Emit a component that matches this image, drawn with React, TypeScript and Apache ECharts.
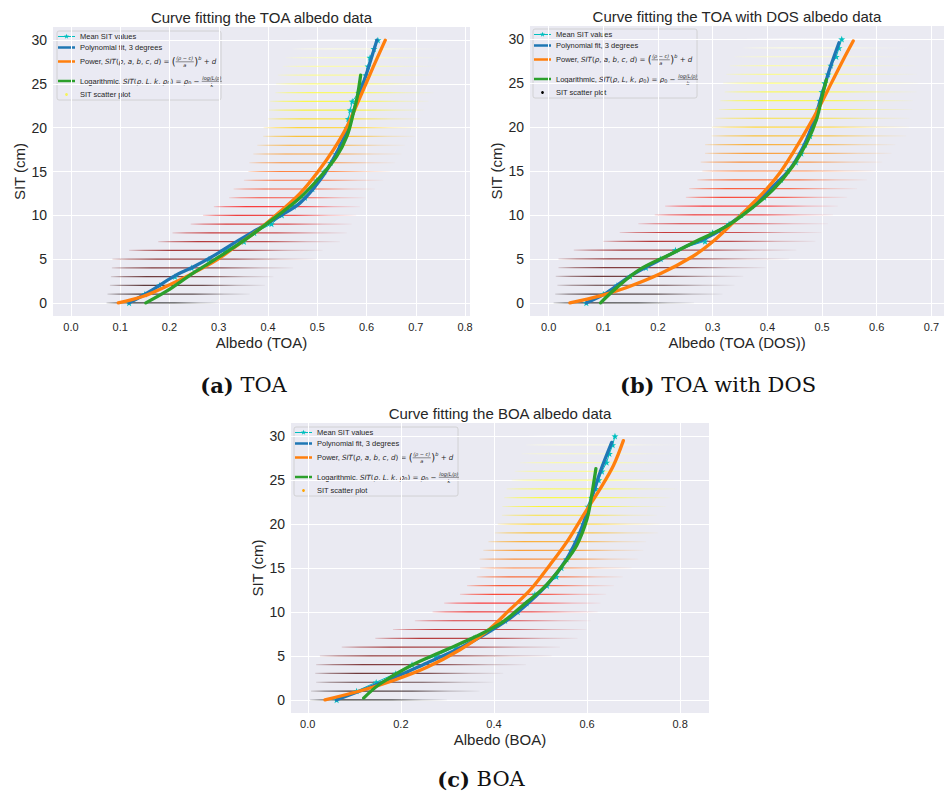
import React, { useEffect, useRef } from 'react';
import * as echarts from 'echarts';

// ---------- data ----------
const sitLevels = [0, 1, 2, 3, 4, 5, 6, 7, 8, 9, 10, 11, 12, 13, 14, 15, 16, 17, 18, 19, 20, 21, 22, 23, 24, 25, 26, 27, 28, 29, 30];

// TOA
const toaBandMin = [0.072, 0.074, 0.079, 0.081, 0.083, 0.084, 0.118, 0.177, 0.206, 0.243, 0.268, 0.290, 0.321, 0.330, 0.351, 0.360, 0.362, 0.370, 0.378, 0.390, 0.391, 0.400, 0.402, 0.404, 0.415, 0.416, 0.420, 0.430, 0.436, 0.450, 0.458];
const toaBandMax = [0.303, 0.363, 0.394, 0.411, 0.451, 0.497, 0.511, 0.546, 0.560, 0.570, 0.579, 0.587, 0.598, 0.617, 0.634, 0.648, 0.658, 0.671, 0.678, 0.698, 0.707, 0.709, 0.717, 0.726, 0.736, 0.729, 0.736, 0.743, 0.756, 0.766, 0.770];
const toaMean = [0.118, 0.150, 0.180, 0.211, 0.245, 0.280, 0.312, 0.351, 0.372, 0.407, 0.428, 0.452, 0.475, 0.490, 0.499, 0.514, 0.527, 0.538, 0.546, 0.556, 0.560, 0.563, 0.567, 0.571, 0.584, 0.591, 0.598, 0.603, 0.607, 0.615, 0.623];
const toaPoly = [[0.118, 0], [0.160, 1.3], [0.208, 3.0], [0.248, 4.1], [0.290, 5.4], [0.330, 6.8], [0.377, 8.35], [0.428, 10.06], [0.465, 11.4], [0.506, 14.05], [0.539, 17.1], [0.563, 20.1], [0.580, 23.0], [0.600, 26.2], [0.621, 30.0]];
const toaPower = [[0.096, 0], [0.147, 0.76], [0.194, 1.9], [0.248, 3.4], [0.296, 4.9], [0.343, 6.8], [0.384, 8.5], [0.424, 10.4], [0.465, 12.5], [0.499, 14.8], [0.533, 17.5], [0.560, 20.1], [0.587, 23.5], [0.614, 27.0], [0.638, 30.0]];
const toaLog = [[0.152, 0], [0.194, 1.33], [0.248, 3.4], [0.302, 5.3], [0.363, 7.6], [0.418, 9.9], [0.465, 12.0], [0.506, 14.4], [0.539, 16.7], [0.560, 19.0], [0.573, 21.6], [0.581, 23.5], [0.588, 26.0]];

// TOA with DOS
const dosBandMin = [0.009, 0.012, 0.016, 0.013, 0.018, 0.018, 0.046, 0.100, 0.130, 0.164, 0.194, 0.213, 0.251, 0.257, 0.272, 0.281, 0.278, 0.286, 0.286, 0.298, 0.298, 0.305, 0.312, 0.314, 0.322, 0.319, 0.325, 0.331, 0.340, 0.356, 0.362];
const dosBandMax = [0.266, 0.318, 0.340, 0.356, 0.397, 0.440, 0.453, 0.488, 0.499, 0.511, 0.520, 0.529, 0.546, 0.564, 0.582, 0.598, 0.610, 0.627, 0.634, 0.654, 0.659, 0.660, 0.665, 0.666, 0.673, 0.676, 0.673, 0.670, 0.660, 0.657, 0.660];
const dosMean = [0.069, 0.100, 0.125, 0.149, 0.178, 0.205, 0.232, 0.286, 0.300, 0.330, 0.352, 0.372, 0.394, 0.405, 0.425, 0.437, 0.452, 0.462, 0.469, 0.478, 0.482, 0.488, 0.493, 0.496, 0.500, 0.505, 0.511, 0.516, 0.526, 0.531, 0.536];
const dosPoly = [[0.069, 0], [0.106, 1.14], [0.149, 3.04], [0.204, 4.9], [0.252, 6.45], [0.289, 7.4], [0.325, 8.7], [0.368, 10.8], [0.411, 13.3], [0.441, 15.2], [0.466, 17.8], [0.484, 20.5], [0.499, 23.5], [0.514, 26.6], [0.531, 29.6]];
const dosPower = [[0.039, 0], [0.094, 0.8], [0.143, 1.75], [0.204, 3.3], [0.264, 5.3], [0.301, 7.0], [0.337, 9.1], [0.368, 11.0], [0.398, 12.9], [0.423, 14.8], [0.447, 17.1], [0.472, 19.7], [0.496, 22.4], [0.517, 25.0], [0.539, 27.7], [0.557, 29.8]];
const dosLog = [[0.095, 0], [0.124, 1.7], [0.167, 3.8], [0.222, 5.5], [0.276, 7.2], [0.325, 8.7], [0.368, 10.6], [0.411, 12.9], [0.447, 15.6], [0.472, 18.2], [0.490, 20.9], [0.499, 23.2], [0.508, 25.4]];

// BOA
const boaBandMin = [0.005, 0.007, 0.018, 0.016, 0.018, 0.026, 0.073, 0.145, 0.183, 0.230, 0.268, 0.293, 0.327, 0.342, 0.363, 0.370, 0.369, 0.377, 0.388, 0.402, 0.408, 0.417, 0.418, 0.422, 0.427, 0.438, 0.445, 0.456, 0.459, 0.469, 0.475];
const boaBandMax = [0.299, 0.369, 0.399, 0.420, 0.469, 0.524, 0.542, 0.580, 0.599, 0.608, 0.623, 0.629, 0.641, 0.658, 0.677, 0.696, 0.710, 0.721, 0.727, 0.753, 0.757, 0.750, 0.770, 0.779, 0.793, 0.786, 0.793, 0.800, 0.800, 0.800, 0.800];
const boaMean = [0.062, 0.105, 0.147, 0.189, 0.224, 0.275, 0.317, 0.356, 0.392, 0.424, 0.451, 0.470, 0.488, 0.514, 0.534, 0.545, 0.556, 0.566, 0.576, 0.585, 0.592, 0.597, 0.602, 0.610, 0.619, 0.625, 0.632, 0.642, 0.648, 0.655, 0.660];
const boaPoly = [[0.062, 0], [0.112, 1.0], [0.184, 2.5], [0.256, 4.2], [0.327, 5.9], [0.385, 7.6], [0.435, 9.3], [0.478, 11.2], [0.521, 13.5], [0.557, 16.1], [0.585, 19.1], [0.607, 22.5], [0.628, 25.9], [0.653, 29.3]];
const boaPower = [[0.037, 0], [0.112, 1.0], [0.184, 2.2], [0.256, 3.7], [0.327, 5.7], [0.385, 7.8], [0.435, 10.3], [0.478, 12.5], [0.521, 15.4], [0.557, 18.0], [0.592, 21.0], [0.628, 24.0], [0.657, 26.7], [0.678, 29.5]];
const boaLog = [[0.120, 0.2], [0.155, 1.8], [0.220, 3.85], [0.291, 5.55], [0.363, 7.25], [0.420, 8.9], [0.463, 10.8], [0.506, 12.7], [0.549, 15.4], [0.578, 17.6], [0.600, 20.6], [0.610, 23.3], [0.619, 26.3]];

const titles = ['Curve fitting the TOA albedo data', 'Curve fitting the TOA with DOS albedo data', 'Curve fitting the BOA albedo data'];
const xNames = ['Albedo (TOA)', 'Albedo (TOA (DOS))', 'Albedo (BOA)'];
const captionTags = ['(a)', '(b)', '(c)'];
const captionTexts = ['TOA', 'TOA with DOS', 'BOA'];
const legendLabels = ['Mean SIT values', 'Polynomial fit, 3 degrees', 'Power, ', 'Logarithmic, ', 'SIT scatter plot'];

// ---------- styling / layout ----------
const SANS = 'Liberation Sans, Arial, sans-serif';
const MATH = 'DejaVu Sans, sans-serif';
const SERIF = 'DejaVu Serif, serif';
const TXT = '#262626';
const BG = '#EAEAF2';
const C_MEAN = '#00BFBF';
const C_POLY = '#1f77b4';
const C_POW = '#ff7f0e';
const C_LOG = '#2ca02c';
const STAR = 'path://M0,-10L2.35,-3.24L9.51,-3.09L3.8,1.24L5.88,8.09L0,4L-5.88,8.09L-3.8,1.24L-9.51,-3.09L-2.35,-3.24Z';

const panels = [
  { bandMin: toaBandMin, bandMax: toaBandMax, mean: toaMean, poly: toaPoly, power: toaPower, log: toaLog,
    grid: { left: 53, top: 27, width: 417, height: 289 }, xMin: -0.0365, xMax: 0.81, xStep: 0.1,
    titleY: 17, yLabelX: 19, xLabelY: 342, legend: [57, 31], scatterColor: '#f6f35a', caption: [243.5, 385] },
  { bandMin: dosBandMin, bandMax: dosBandMax, mean: dosMean, poly: dosPoly, power: dosPower, log: dosLog,
    grid: { left: 530, top: 26, width: 414, height: 290 }, xMin: -0.034, xMax: 0.723, xStep: 0.1,
    titleY: 16, yLabelX: 496, xLabelY: 342, legend: [533, 29], scatterColor: '#000000', caption: [718, 385] },
  { bandMin: boaBandMin, bandMax: boaBandMax, mean: boaMean, poly: boaPoly, power: boaPower, log: boaLog,
    grid: { left: 291, top: 423, width: 418, height: 290 }, xMin: -0.036, xMax: 0.862, xStep: 0.2,
    titleY: 413, yLabelX: 257, xLabelY: 739, legend: [294, 427], scatterColor: '#ffa500', caption: [481, 779] },
];

function hot(s: number): number[] {
  const x = s / 30;
  const r = Math.min(1, x / 0.365);
  const g = Math.min(1, Math.max(0, (x - 0.365) / 0.381));
  const b = Math.min(1, Math.max(0, (x - 0.746) / 0.254));
  return [r, g, b].map((v) => Math.round(v * 255));
}

let ctx2d: CanvasRenderingContext2D | null = null;
function measure(t: string, size: number, fam: string, italic: boolean): number {
  if (!ctx2d) ctx2d = document.createElement('canvas').getContext('2d');
  if (!ctx2d) return t.length * size * 0.55;
  ctx2d.font = `${italic ? 'italic ' : ''}${size}px ${fam}`;
  return ctx2d.measureText(t).width;
}

function txt(text: string, x: number, y: number, size: number, fam: string, italic = false, align = 'left', extra: any = {}) {
  return {
    type: 'text', x, y, silent: true,
    style: { text, fontSize: size, fontFamily: fam, fontStyle: italic ? 'italic' : 'normal', fill: TXT,
      align, textAlign: align, verticalAlign: 'middle', textVerticalAlign: 'middle', ...extra },
  };
}

type Piece = { t?: string; it?: boolean; sz?: number; dy?: number; fam?: string; num?: string; den?: string };
const FS = 7.5;
const FM = 7.1;
function formula(parts: Piece[], x: number, y: number): any[] {
  const els: any[] = [];
  let cx = x;
  for (const p of parts) {
    if (p.num !== undefined) {
      const sz = p.sz || 5;
      const w = Math.max(measure(p.num, sz, MATH, true), measure(p.den || '', sz, MATH, true)) + 1;
      els.push(txt(p.num, cx + w / 2, y - 3.2, sz, MATH, true, 'center'));
      els.push(txt(p.den || '', cx + w / 2, y + 3.6, sz, MATH, true, 'center'));
      els.push({ type: 'line', silent: true, shape: { x1: cx, y1: y + 0.3, x2: cx + w, y2: y + 0.3 }, style: { stroke: TXT, lineWidth: 0.5 } });
      cx += w + 0.5;
    } else {
      const sz = p.sz || FM;
      const fam = p.fam || MATH;
      const t = p.t || '';
      els.push(txt(t, cx, y + (p.dy || 0), sz, fam, !!p.it));
      cx += measure(t, sz, fam, !!p.it);
    }
  }
  return els;
}

function legendGroup(pos: number[], scatterColor: string) {
  const ys = [5.5, 16.5, 30.5, 50, 63.5];
  const tx = 23;
  const children: any[] = [
    { type: 'rect', silent: true, shape: { x: 0, y: 0, width: 164, height: 69, r: 2 }, style: { fill: 'rgba(234,234,242,0.8)', stroke: '#cccccc', lineWidth: 0.8 } },
    { type: 'line', silent: true, shape: { x1: 1, y1: ys[0], x2: 18, y2: ys[0] }, style: { stroke: C_MEAN, lineWidth: 1 } },
    { type: 'polygon', silent: true, shape: { points: [[0, -10], [2.35, -3.24], [9.51, -3.09], [3.8, 1.24], [5.88, 8.09], [0, 4], [-5.88, 8.09], [-3.8, 1.24], [-9.51, -3.09], [-2.35, -3.24]].map((q) => [9.5 + q[0] * 0.28, ys[0] + q[1] * 0.28]) }, style: { fill: C_MEAN } },
    { type: 'line', silent: true, shape: { x1: 1, y1: ys[1], x2: 18, y2: ys[1] }, style: { stroke: C_POLY, lineWidth: 2.5 } },
    { type: 'line', silent: true, shape: { x1: 1, y1: ys[2], x2: 18, y2: ys[2] }, style: { stroke: C_POW, lineWidth: 2.5 } },
    { type: 'line', silent: true, shape: { x1: 1, y1: ys[3], x2: 18, y2: ys[3] }, style: { stroke: C_LOG, lineWidth: 2.5 } },
    { type: 'circle', silent: true, shape: { cx: 9.5, cy: ys[4], r: 1.4 }, style: { fill: scatterColor } },
    txt(legendLabels[0], tx, ys[0], FS, SANS),
    txt(legendLabels[1], tx, ys[1], FS, SANS),
    ...formula([
      { t: legendLabels[2], fam: SANS, sz: FS }, { t: 'SIT', it: true }, { t: '(' }, { t: 'ρ', it: true }, { t: ', ' }, { t: 'a', it: true },
      { t: ', ' }, { t: 'b', it: true }, { t: ', ' }, { t: 'c', it: true }, { t: ', ' }, { t: 'd', it: true }, { t: ') = ' },
      { t: '(', sz: 10 }, { num: '(ρ − c)', den: 'a', sz: 5 }, { t: ')', sz: 10 }, { t: 'b', it: true, sz: 5, dy: -3.5 },
      { t: ' + ' }, { t: 'd', it: true },
    ], tx, ys[2]),
    ...formula([
      { t: legendLabels[3], fam: SANS, sz: FS }, { t: 'SIT', it: true }, { t: '(' }, { t: 'ρ', it: true }, { t: ', ' }, { t: 'L', it: true },
      { t: ', ' }, { t: 'k', it: true }, { t: ', ' }, { t: 'ρ', it: true }, { t: '0', sz: 5, dy: 1.8 }, { t: ') = ' },
      { t: 'ρ', it: true }, { t: '0', sz: 5, dy: 1.8 }, { t: ' − ' }, { num: 'log(L/ρ)', den: 'k', sz: 5 },
    ], tx, ys[3]),
    txt(legendLabels[4], tx, ys[4], FS, SANS),
  ];
  return { type: 'group', x: pos[0], y: pos[1], children, z: 100 };
}

export default function App() {
  const ref = useRef<HTMLDivElement>(null);
  useEffect(() => {
    if (!ref.current) return;
    const chart = echarts.init(ref.current, undefined, { renderer: 'svg' });

    const grids: any[] = [];
    const xAxes: any[] = [];
    const yAxes: any[] = [];
    const series: any[] = [];
    const graphics: any[] = [];

    panels.forEach((p, i) => {
      grids.push({ ...p.grid, show: true, backgroundColor: BG, borderWidth: 0, borderColor: 'transparent' });
      xAxes.push({
        gridIndex: i, type: 'value', min: p.xMin, max: p.xMax, minInterval: p.xStep, maxInterval: p.xStep,
        axisLine: { show: false }, axisTick: { show: false },
        splitLine: { show: true, showMinLine: false, showMaxLine: false, lineStyle: { color: '#ffffff', width: 1 } },
        axisLabel: { fontSize: 11, color: TXT, fontFamily: SANS, margin: 5, showMinLabel: false, showMaxLabel: false,
          formatter: (v: number) => v.toFixed(1) },
      });
      yAxes.push({
        gridIndex: i, type: 'value', min: -1.5, max: 31.5, minInterval: 5, maxInterval: 5,
        axisLine: { show: false }, axisTick: { show: false },
        splitLine: { show: true, showMinLine: false, showMaxLine: false, lineStyle: { color: '#ffffff', width: 1 } },
        axisLabel: { fontSize: 14, color: TXT, fontFamily: SANS, margin: 6, showMinLabel: false, showMaxLabel: false,
          formatter: (v: number) => String(Math.round(v)) },
      });

      const bandData = p.bandMin.map((m, k) => [m, p.bandMax[k], sitLevels[k]]);
      series.push({
        type: 'custom', xAxisIndex: i, yAxisIndex: i, z: 1, data: bandData, encode: { x: [0, 1], y: 2 },
        renderItem: (_params: any, api: any) => {
          const lo = api.coord([api.value(0), api.value(2)]);
          const hi = api.coord([api.value(1), api.value(2)]);
          const [r, g, b] = hot(api.value(2));
          const c = (a: number) => `rgba(${r},${g},${b},${a})`;
          return {
            type: 'rect', shape: { x: lo[0], y: lo[1] - 0.6, width: hi[0] - lo[0], height: 1.2 },
            style: { fill: new echarts.graphic.LinearGradient(0, 0, 1, 0, [
              { offset: 0, color: c(0.12) }, { offset: 0.08, color: c(0.45) }, { offset: 0.22, color: c(0.75) },
              { offset: 0.6, color: c(0.65) }, { offset: 0.82, color: c(0.22) }, { offset: 1, color: c(0.03) },
            ]) },
          };
        },
      });
      series.push({
        type: 'line', xAxisIndex: i, yAxisIndex: i, z: 3, data: p.mean.map((m, k) => [m, sitLevels[k]]),
        lineStyle: { color: C_MEAN, width: 1 }, itemStyle: { color: C_MEAN }, symbol: STAR, symbolSize: 7,
        symbolKeepAspect: true, showSymbol: true,
      });
      [[p.poly, C_POLY], [p.power, C_POW], [p.log, C_LOG]].forEach(([d, col], j) => {
        series.push({
          type: 'line', xAxisIndex: i, yAxisIndex: i, z: 4 + j, data: d, smooth: 0.35, symbol: 'none',
          lineStyle: { color: col, width: 3.3, cap: 'round' },
        });
      });

      const cx = p.grid.left + p.grid.width / 2;
      const cy = p.grid.top + p.grid.height / 2;
      graphics.push(txt(titles[i], cx, p.titleY, 15, SANS, false, 'center'));
      graphics.push(txt(xNames[i], cx, p.xLabelY, 15, SANS, false, 'center'));
      graphics.push({ ...txt('SIT (cm)', 0, 0, 15, SANS, false, 'center'), x: p.yLabelX, y: cy, rotation: Math.PI / 2 });
      graphics.push(legendGroup(p.legend, p.scatterColor));
      graphics.push({
        type: 'text', x: p.caption[0], y: p.caption[1], silent: true,
        style: {
          text: `{b|${captionTags[i]}}{n| ${captionTexts[i]}}`, align: 'center', textAlign: 'center',
          verticalAlign: 'middle', textVerticalAlign: 'middle', fill: '#111111', fontSize: 21, fontFamily: SERIF,
          rich: { b: { fontWeight: 'bold', fontSize: 21, fontFamily: SERIF, fill: '#111111' }, n: { fontSize: 21, fontFamily: SERIF, fill: '#111111' } },
        },
      });
    });

    chart.setOption({
      animation: false,
      backgroundColor: '#ffffff',
      grid: grids, xAxis: xAxes, yAxis: yAxes, series, graphic: graphics,
    });
    return () => chart.dispose();
  }, []);
  return <div ref={ref} style={{ position: 'absolute', left: 0, top: 0, width: 945, height: 796 }} />;
}
